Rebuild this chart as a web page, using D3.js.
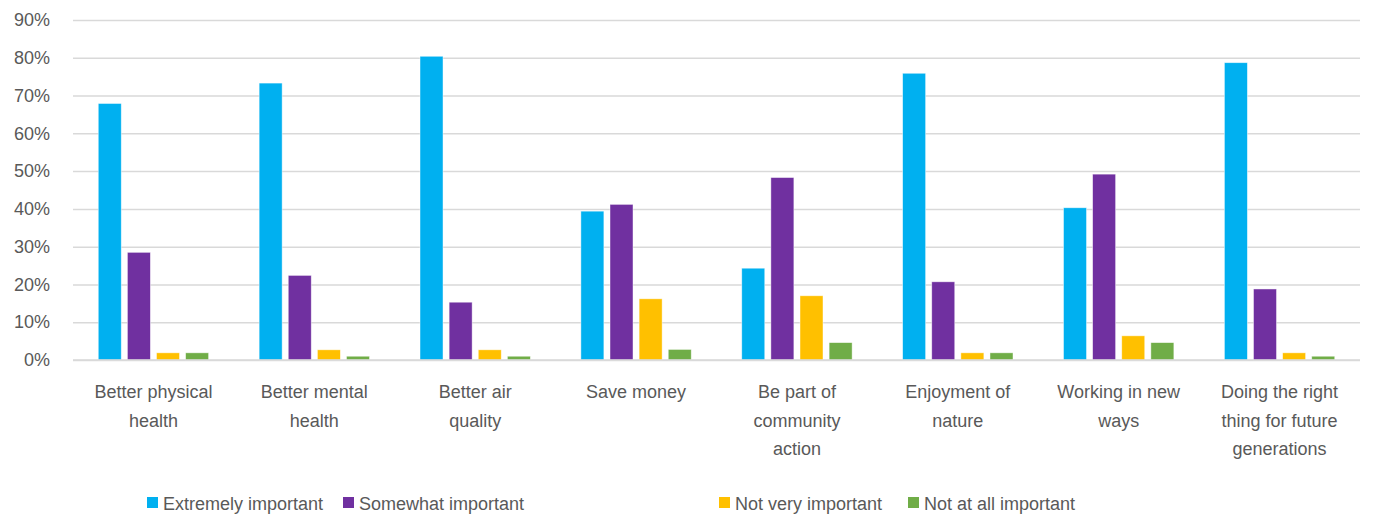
<!DOCTYPE html>
<html><head><meta charset="utf-8">
<script src="https://cdn.jsdelivr.net/npm/d3@7"></script>
<style>
html,body{margin:0;padding:0;background:#fff;}
text{font-family:"Liberation Sans",Arial,sans-serif;fill:#595959;}
</style></head>
<body><svg id="chart" width="1373" height="518"></svg>
<script>
const categories = ["Better physical health","Better mental health","Better air quality","Save money","Be part of community action","Enjoyment of nature","Working in new ways","Doing the right thing for future generations"];
const categoryLines = [["Better physical","health"],["Better mental","health"],["Better air","quality"],["Save money"],["Be part of","community","action"],["Enjoyment of","nature"],["Working in new","ways"],["Doing the right","thing for future","generations"]];
const seriesNames = ["Extremely important","Somewhat important","Not very important","Not at all important"];
const extremely = [67.9, 73.3, 80.4, 39.4, 24.3, 75.9, 40.3, 78.7];
const somewhat  = [28.5, 22.4, 15.3, 41.2, 48.3, 20.7, 49.2, 18.8];
const notVery   = [1.9, 2.7, 2.7, 16.2, 17.0, 1.9, 6.4, 1.9];
const notAtAll  = [1.9, 1.0, 1.0, 2.8, 4.6, 1.9, 4.6, 1.0];
const yTicks = [0,10,20,30,40,50,60,70,80,90];
const colors = ["#00B0F0","#7030A0","#FFC000","#70AD47"];

const seriesValues = [extremely, somewhat, notVery, notAtAll];
const svg = d3.select("#chart");
const mLeft = 73, mRight = 1360, mTop = 20, mBottom = 360;
const FONT = '"Liberation Sans",Arial,sans-serif';
const FS = 18;

const x0 = d3.scaleBand().domain(categories).range([mLeft, mRight]).paddingInner(0.314).paddingOuter(0.157);
const x1 = d3.scaleBand().domain(seriesNames).range([0, x0.bandwidth()]).paddingInner(0.21).paddingOuter(0);
const y = d3.scaleLinear().domain([0, 90]).range([mBottom, mTop]);

// gridlines
const yAxis = d3.axisLeft(y).tickValues(yTicks).tickFormat(d => d + "%").tickSize(-(mRight - mLeft)).tickPadding(23);
const gy = svg.append("g").attr("transform", `translate(${mLeft},0)`).call(yAxis);
gy.select(".domain").remove();
gy.selectAll(".tick line").attr("stroke", "#D9D9D9").attr("stroke-width", 1.5);
gy.selectAll(".tick text").attr("font-size", FS).style("font-family", FONT).attr("fill", "#595959");

// bars
const groups = svg.append("g").selectAll("g").data(categories).join("g")
  .attr("transform", d => `translate(${x0(d)},0)`);
groups.selectAll("rect").data((d, i) => seriesNames.map((s, j) => ({s, v: seriesValues[j][i], j})))
  .join("rect")
  .attr("x", d => x1(d.s))
  .attr("width", x1.bandwidth())
  .attr("y", d => y(d.v))
  .attr("height", d => y(0) - y(d.v))
  .attr("fill", d => colors[d.j])
  .attr("stroke", "#ffffff").attr("stroke-opacity", 0.6).attr("stroke-width", 0.75);

// x axis line
svg.append("line").attr("x1", mLeft).attr("x2", mRight).attr("y1", y(0)).attr("y2", y(0))
  .attr("stroke", "#D9D9D9").attr("stroke-width", 1.5);

// category labels
const xl = svg.append("g");
categories.forEach((c, i) => {
  const cx = x0(c) + x0.bandwidth() / 2;
  const t = xl.append("text").attr("text-anchor", "middle").attr("font-size", FS);
  categoryLines[i].forEach((ln, k) => {
    t.append("tspan").attr("x", cx).attr("y", 398 + k * 28.5).text(ln);
  });
});

// legend
const legendX = [147, 343, 719, 908];
const lg = svg.append("g");
seriesNames.forEach((s, j) => {
  lg.append("rect").attr("x", legendX[j]).attr("y", 497).attr("width", 11).attr("height", 11).attr("fill", colors[j]);
  lg.append("text").attr("x", legendX[j] + 16).attr("y", 509.5).attr("font-size", FS).text(s);
});
</script></body></html>
